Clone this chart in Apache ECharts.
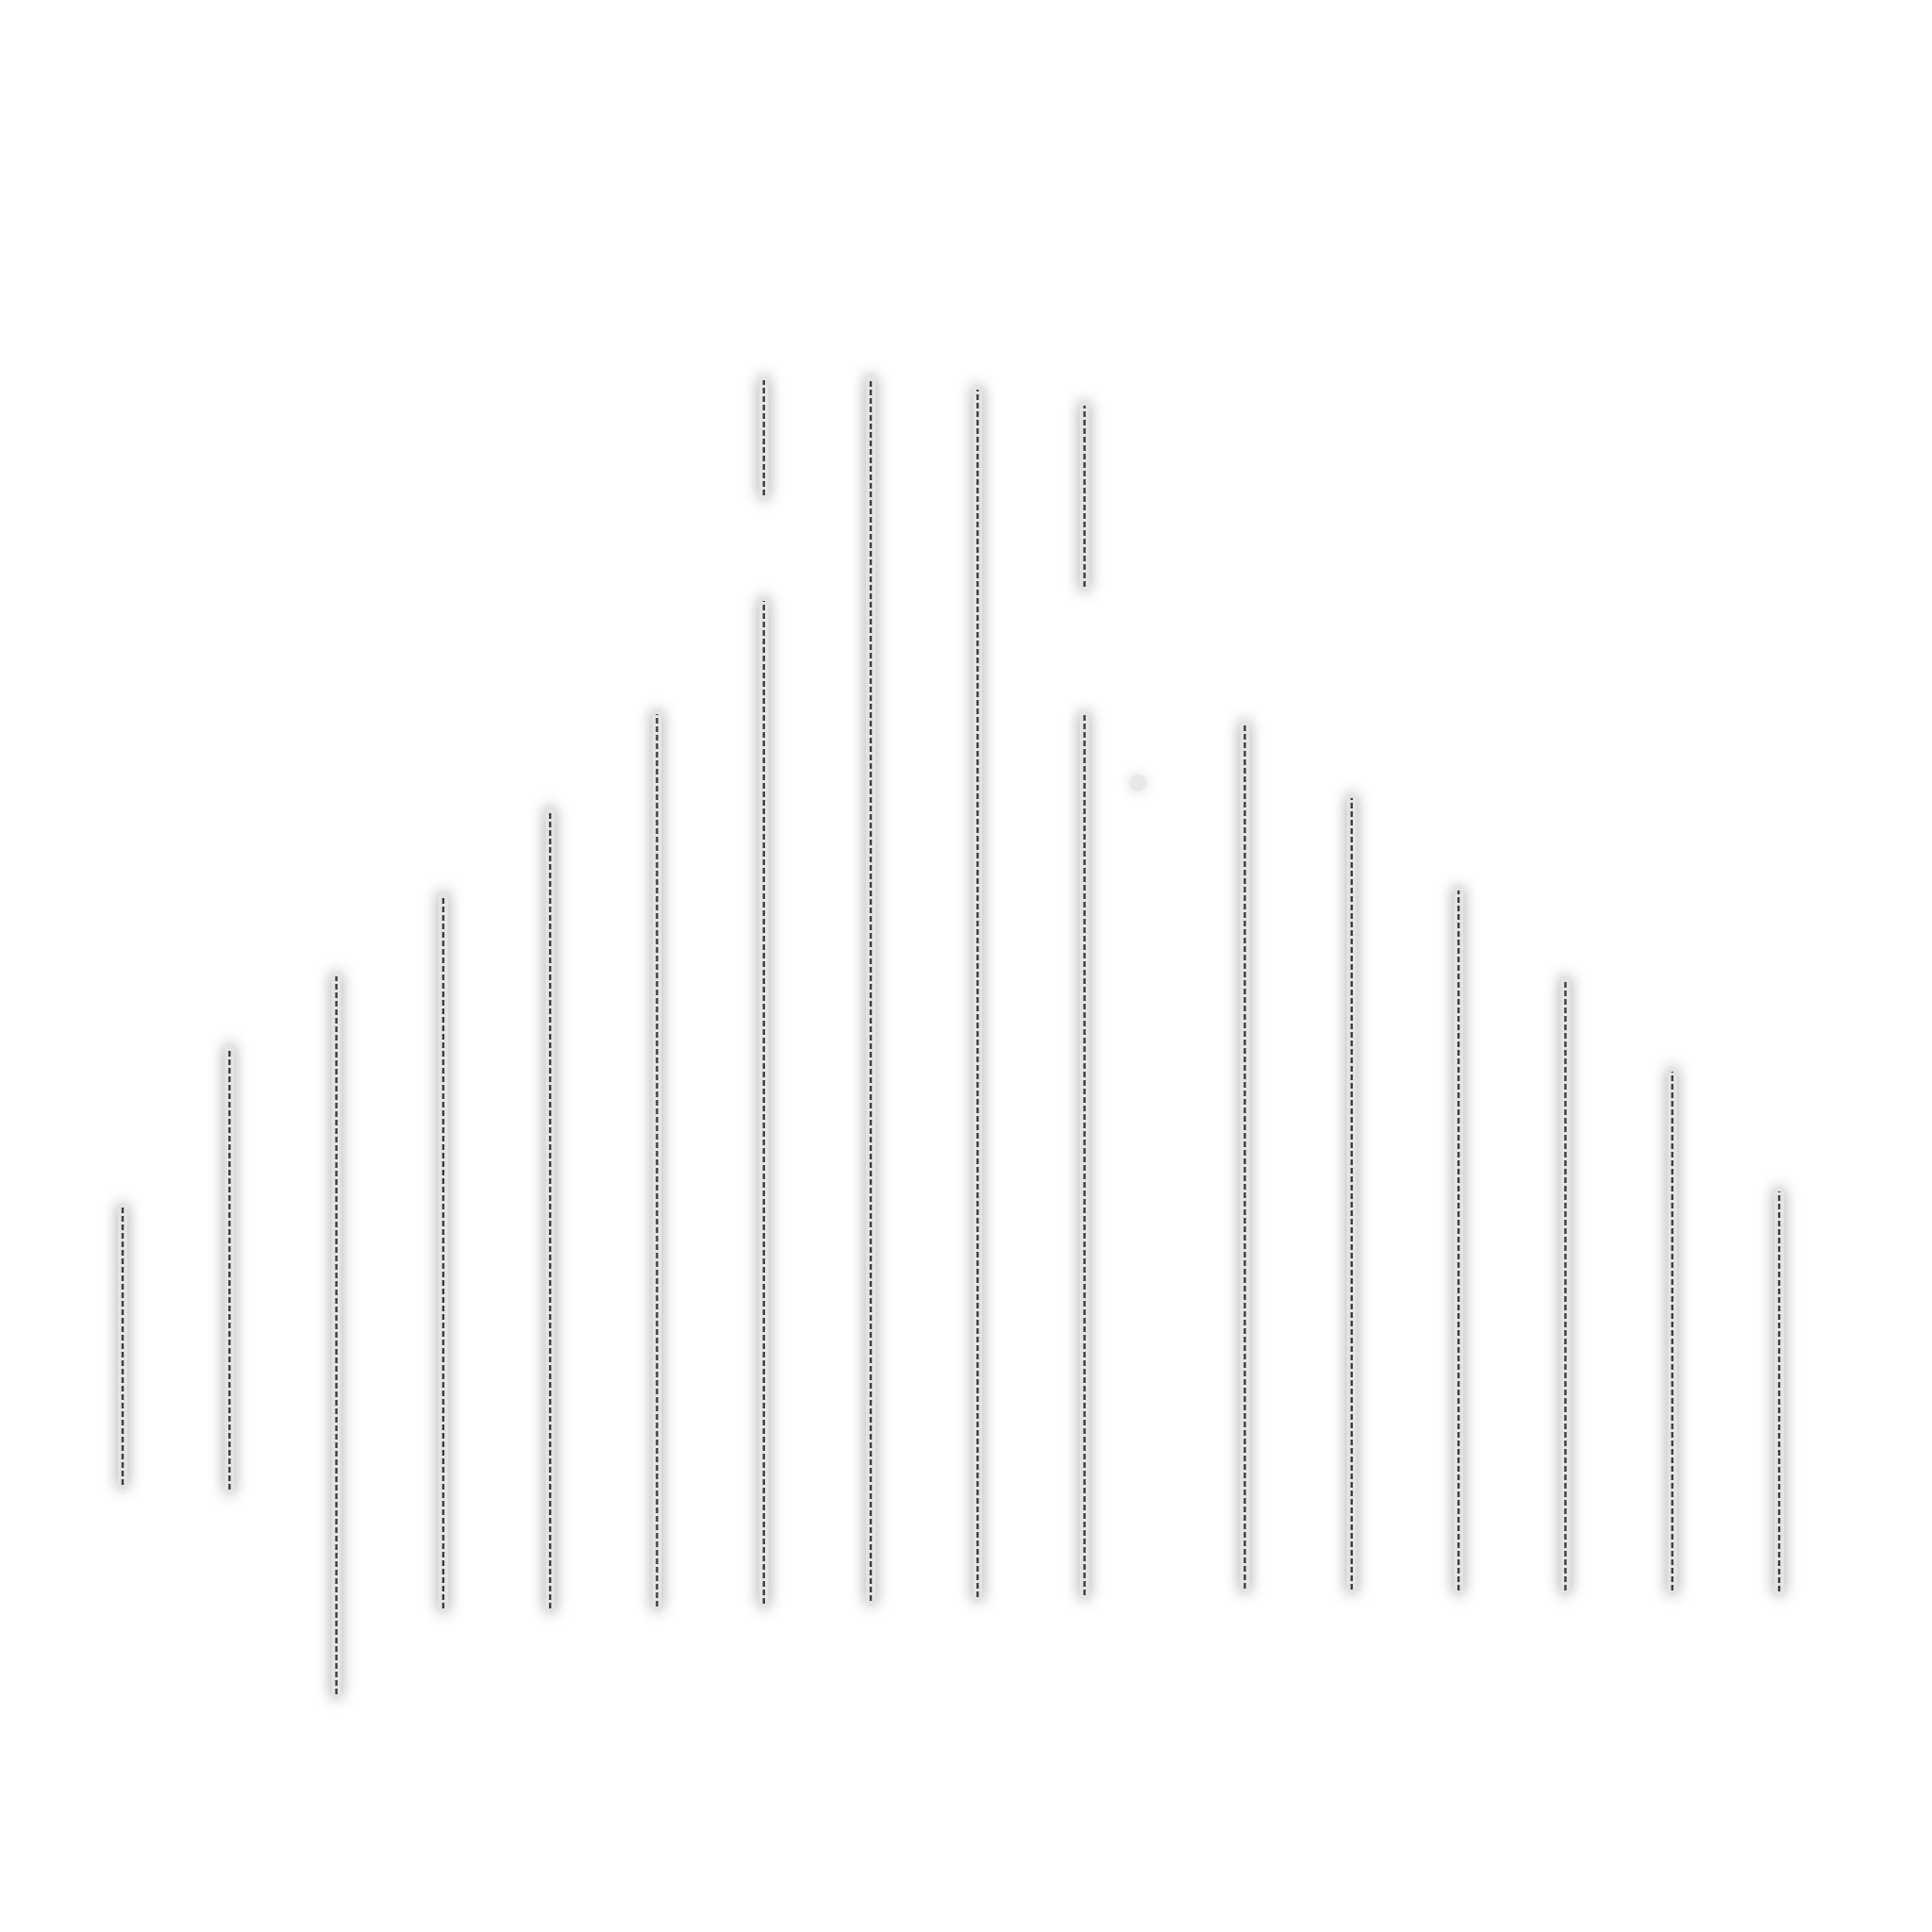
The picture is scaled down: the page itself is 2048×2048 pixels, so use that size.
<!DOCTYPE html>
<html>
<head>
<meta charset="utf-8">
<script src="https://cdn.jsdelivr.net/npm/echarts@6/dist/echarts.min.js"></script>
<style>
  html, body { margin: 0; padding: 0; background: #fff; }
  #chart { width: 2048px; height: 2048px; }
</style>
</head>
<body>
<div id="chart"></div>
<script>
// x position of each column (there is a wider gap after the 10th one)
const xPos = [0, 1, 2, 3, 4, 5, 6, 7, 8, 9, 10.5, 11.5, 12.5, 13.5, 14.5, 15.5];
// lower and upper end of every dashed line
const lowVals  = [27.4, 26.9, 5.2, 14.3, 14.3, 14.5, 14.8, 15.1, 15.5, 15.7, 16.4, 16.3, 16.2, 16.2, 16.2, 16.1];
const highVals = [56.8, 73.7, 81.3, 89.9, 98.9, 109.1, 144.5, 144.6, 143.5, 141.8, 108.0, 100.2, 90.4, 80.9, 71.2, 58.5];
// columns whose line is broken: [column index, gap from, gap to]
const breaks = [[6, 121.1, 132.3], [9, 109.0, 122.6]];
// the lone faint point
const dotPoint = [[9.5, 101.8]];

// split columns into segments [x, from, to]
const segments = [];
xPos.forEach((x, i) => {
  const b = breaks.find(d => d[0] === i);
  if (b) {
    segments.push([x, lowVals[i], b[1]]);
    segments.push([x, b[2], highVals[i]]);
  } else {
    segments.push([x, lowVals[i], highVals[i]]);
  }
});

const myChart = echarts.init(document.getElementById('chart'));
const option = {
  backgroundColor: '#fff',
  animation: false,
  grid: { left: 130, top: 248, width: 1756, height: 1600 },
  xAxis: { type: 'value', min: 0, max: 15.5, show: false },
  yAxis: { type: 'value', min: 0, max: 160, show: false },
  series: [
    {
      type: 'custom',
      data: segments,
      renderItem: function (params, api) {
        const x = api.value(0);
        const p1 = api.coord([x, api.value(1)]);
        const p2 = api.coord([x, api.value(2)]);
        const shape = { x1: p1[0], y1: p1[1], x2: p2[0], y2: p2[1] };
        return {
          type: 'group',
          children: [
            {
              // soft grey halo (opaque stroke so the shadow shows)
              type: 'line',
              shape: shape,
              style: {
                stroke: '#e4e4e4',
                lineWidth: 10,
                lineCap: 'round',
                shadowBlur: 16,
                shadowColor: 'rgba(0,0,0,0.4)'
              }
            },
            {
              type: 'line',
              shape: shape,
              style: {
                stroke: '#3c3c3c',
                lineWidth: 2.4,
                lineDash: [6, 3]
              }
            }
          ]
        };
      }
    },
    {
      type: 'scatter',
      data: dotPoint,
      symbolSize: 18,
      itemStyle: { color: '#e6e6e6', shadowBlur: 14, shadowColor: 'rgba(0,0,0,0.2)' }
    }
  ]
};
myChart.setOption(option);
</script>
</body>
</html>
